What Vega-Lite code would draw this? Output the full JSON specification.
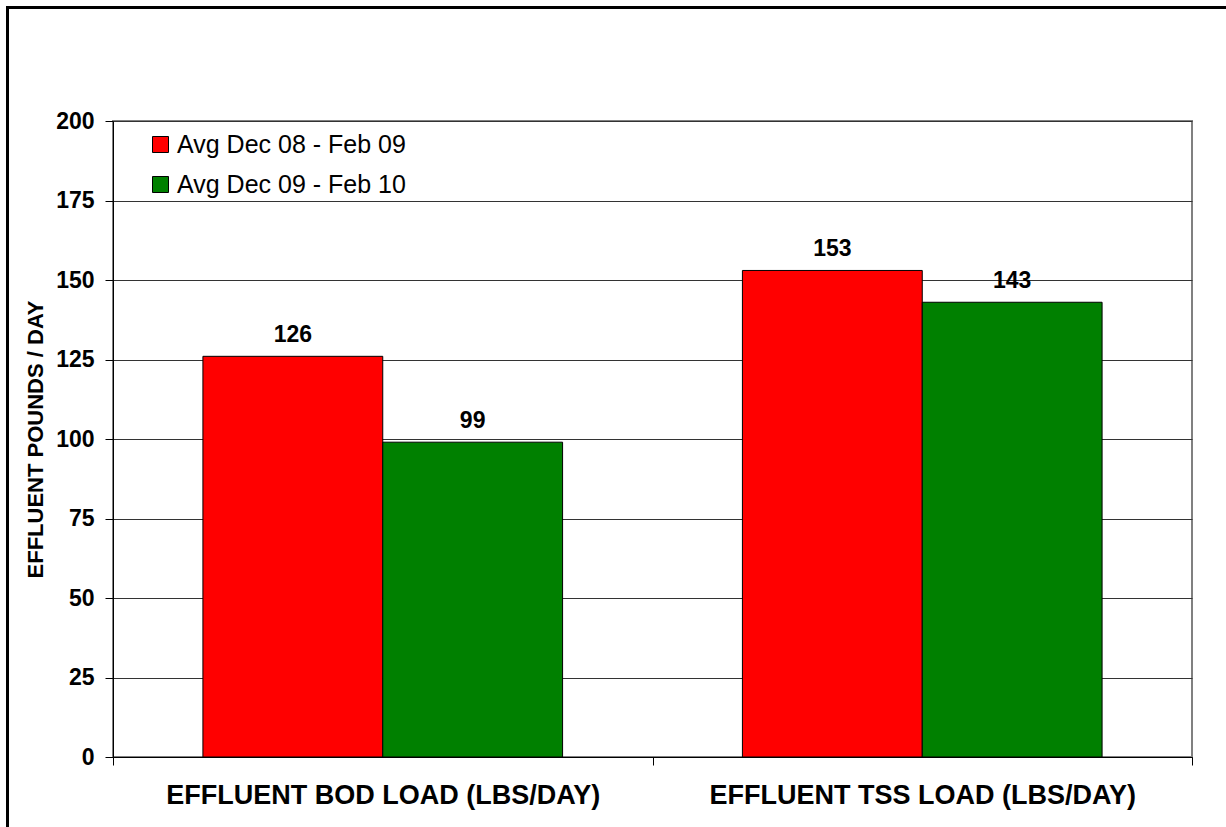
{
  "$schema": "https://vega.github.io/schema/vega-lite/v6.json",
  "width": 1079,
  "height": 636,
  "autosize": {"type": "none"},
  "padding": {"left": 113, "top": 121, "right": 34, "bottom": 70},
  "background": "white",
  "config": {
    "font": "Liberation Sans",
    "view": {"stroke": "#808080", "strokeWidth": 2},
    "legend": {"strokeWidth": 3}
  },
  "data": {
    "values": [
      {"load": "EFFLUENT BOD LOAD (LBS/DAY)", "period": "Avg Dec 08 - Feb 09", "value": 126},
      {"load": "EFFLUENT BOD LOAD (LBS/DAY)", "period": "Avg Dec 09 - Feb 10", "value": 99},
      {"load": "EFFLUENT TSS LOAD (LBS/DAY)", "period": "Avg Dec 08 - Feb 09", "value": 153},
      {"load": "EFFLUENT TSS LOAD (LBS/DAY)", "period": "Avg Dec 09 - Feb 10", "value": 143}
    ]
  },
  "encoding": {
    "x": {
      "field": "load",
      "type": "nominal",
      "scale": {"paddingInner": 0, "paddingOuter": 0},
      "axis": {
        "title": null,
        "labelAngle": 0,
        "labelFontSize": 27,
        "labelFontWeight": "bold",
        "labelColor": "black",
        "labelBaseline": "alphabetic",
        "labelPadding": 38,
        "labelLimit": 800,
        "tickBand": "extent",
        "tickSize": 8,
        "tickColor": "black",
        "domainColor": "black",
        "grid": false
      }
    },
    "xOffset": {
      "field": "period",
      "type": "nominal",
      "sort": ["Avg Dec 08 - Feb 09", "Avg Dec 09 - Feb 10"],
      "scale": {"paddingInner": 0, "paddingOuter": 0.5}
    },
    "y": {
      "field": "value",
      "type": "quantitative",
      "scale": {"domain": [0, 200]},
      "axis": {
        "values": [0, 25, 50, 75, 100, 125, 150, 175, 200],
        "labelFontSize": 23,
        "labelFontWeight": "bold",
        "labelColor": "black",
        "labelPadding": 11,
        "tickSize": 8,
        "tickColor": "black",
        "domainColor": "black",
        "gridColor": "#333333",
        "gridWidth": 1,
        "title": "EFFLUENT POUNDS / DAY",
        "titleFontSize": 22,
        "titleFontWeight": "bold",
        "titleColor": "black",
        "titleAngle": 270,
        "titleX": -71,
        "titleY": 318,
        "titleAlign": "center",
        "titleBaseline": "alphabetic"
      }
    }
  },
  "layer": [
    {
      "mark": {"type": "bar", "stroke": "black", "strokeWidth": 1},
      "encoding": {
        "color": {
          "field": "period",
          "type": "nominal",
          "sort": ["Avg Dec 08 - Feb 09", "Avg Dec 09 - Feb 10"],
          "scale": {"domain": ["Avg Dec 08 - Feb 09", "Avg Dec 09 - Feb 10"], "range": ["#FF0000", "#008000"]},
          "legend": {
            "orient": "none",
            "legendX": 35,
            "legendY": 11,
            "title": null,
            "padding": 0,
            "symbolType": "square",
            "symbolSize": 256,
            "symbolStrokeColor": "black",
            "symbolStrokeWidth": 1,
            "symbolOpacity": 1,
            "labelFontSize": 25,
            "labelColor": "black",
            "labelOffset": 4,
            "labelLimit": 500,
            "rowPadding": 14
          }
        }
      }
    },
    {
      "mark": {"type": "text", "dy": -14, "baseline": "alphabetic", "fontSize": 23, "fontWeight": "bold", "color": "black"},
      "encoding": {"text": {"field": "value", "type": "quantitative"}}
    },
    {
      "mark": {"type": "point", "opacity": 0},
      "encoding": {
        "shape": {
          "datum": "chart frame",
          "legend": {
            "orient": "none",
            "legendX": -105.5,
            "legendY": -113.5,
            "title": null,
            "padding": 700,
            "strokeColor": "black",
            "symbolSize": 100,
            "symbolOpacity": 0,
            "symbolStrokeWidth": 0,
            "labelOffset": 0,
            "labelExpr": "''"
          }
        }
      }
    }
  ]
}
